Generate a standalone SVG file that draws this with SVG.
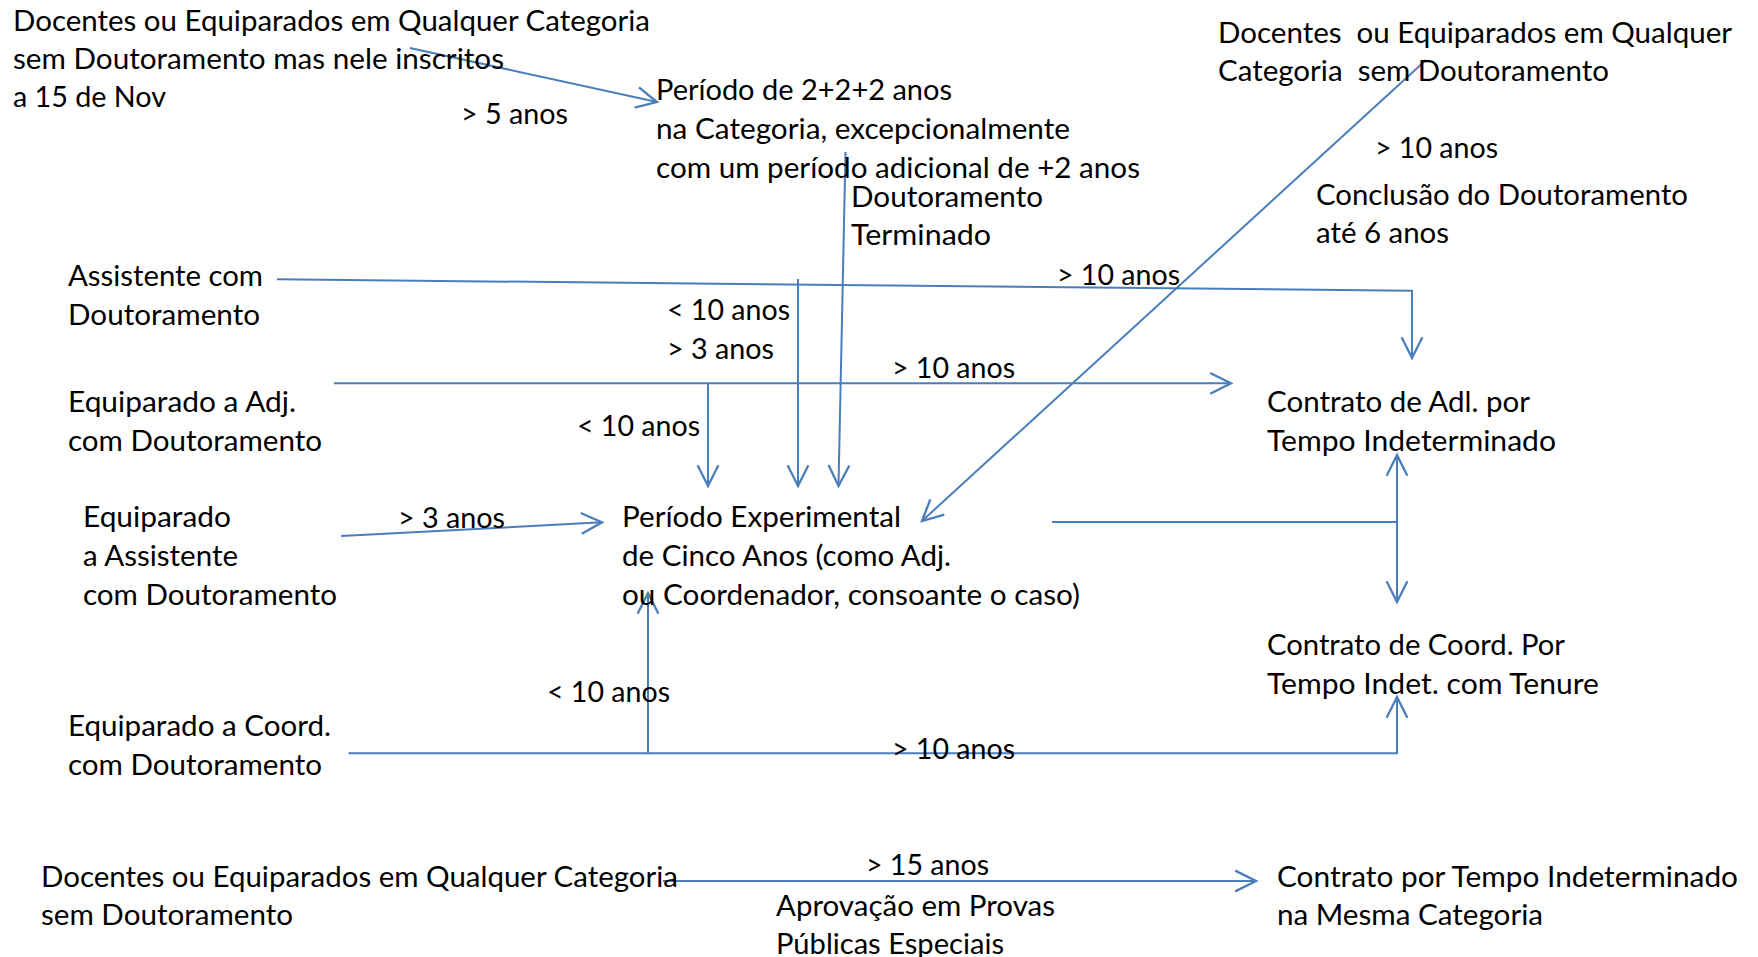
<svg xmlns="http://www.w3.org/2000/svg" width="1758" height="957" viewBox="0 0 1758 957">
<style>
text{font-family:Lato,"Open Sans","Liberation Sans",sans-serif;font-size:29px;fill:#000;}
.c{fill:none;stroke:#4A7EBB;stroke-width:2;}
</style>
<defs>
<marker id="ah" markerUnits="userSpaceOnUse" markerWidth="30" markerHeight="30" viewBox="-22 -12 26 24" refX="0" refY="0" orient="auto-start-reverse">
<path d="M-18,-9 L0,0 L-18,9" fill="none" stroke="#4A7EBB" stroke-width="2"/>
</marker>
</defs>
<rect width="1758" height="957" fill="#fff"/>
<g id="connectors">
<path class="c" d="M410,48 L657,102" marker-end="url(#ah)"/>
<path class="c" d="M845.5,152 L838.5,486" marker-end="url(#ah)"/>
<path class="c" d="M798,279 L798,486" marker-end="url(#ah)"/>
<path class="c" d="M277,279.3 L1412,290.7 L1412,358" marker-end="url(#ah)"/>
<path class="c" d="M334,383.3 L1231,383.3" marker-end="url(#ah)"/>
<path class="c" d="M708,383.3 L708,486" marker-end="url(#ah)"/>
<path class="c" d="M341,536 L602,522.3" marker-end="url(#ah)"/>
<path class="c" d="M1426,60 L922,521" marker-end="url(#ah)"/>
<path class="c" d="M1052,522 L1397,522"/>
<path class="c" d="M1397,455 L1397,602" marker-start="url(#ah)" marker-end="url(#ah)"/>
<path class="c" d="M348.5,753.3 L1397,753.3 L1397,697" marker-end="url(#ah)"/>
<path class="c" d="M648,753.3 L648,593" marker-end="url(#ah)"/>
<path class="c" d="M663,881 L1256,881" marker-end="url(#ah)"/>
</g>
<g id="texts" transform="translate(0,1.5)">
<g id="n-docentes-inscritos">
<text x="13" y="29" textLength="637" lengthAdjust="spacingAndGlyphs">Docentes ou Equiparados em Qualquer Categoria</text>
<text x="13" y="67" textLength="491" lengthAdjust="spacingAndGlyphs">sem Doutoramento mas nele inscritos</text>
<text x="13" y="105" textLength="153" lengthAdjust="spacingAndGlyphs">a 15 de Nov</text>
</g>
<g id="l-5anos"><text x="461" y="122" textLength="107" lengthAdjust="spacingAndGlyphs">&gt; 5 anos</text></g>
<g id="n-periodo-222">
<text x="656" y="98" textLength="296" lengthAdjust="spacingAndGlyphs">Período de 2+2+2 anos</text>
<text x="656" y="137" textLength="414" lengthAdjust="spacingAndGlyphs">na Categoria, excepcionalmente</text>
<text x="656" y="176" textLength="484" lengthAdjust="spacingAndGlyphs">com um período adicional de +2 anos</text>
</g>
<g id="l-doutoramento-terminado">
<text x="851" y="205" textLength="192" lengthAdjust="spacingAndGlyphs">Doutoramento</text>
<text x="851" y="243" textLength="140" lengthAdjust="spacingAndGlyphs">Terminado</text>
</g>
<g id="n-docentes-sem-dout-top">
<text x="1218" y="41" textLength="514" lengthAdjust="spacingAndGlyphs" xml:space="preserve">Docentes  ou Equiparados em Qualquer</text>
<text x="1218" y="79" textLength="391" lengthAdjust="spacingAndGlyphs" xml:space="preserve">Categoria  sem Doutoramento</text>
</g>
<g id="l-10anos-top"><text x="1375" y="156" textLength="123" lengthAdjust="spacingAndGlyphs">&gt; 10 anos</text></g>
<g id="l-conclusao">
<text x="1316" y="203" textLength="372" lengthAdjust="spacingAndGlyphs">Conclusão do Doutoramento</text>
<text x="1316" y="241" textLength="133" lengthAdjust="spacingAndGlyphs">até 6 anos</text>
</g>
<g id="n-assistente">
<text x="68" y="284" textLength="195" lengthAdjust="spacingAndGlyphs">Assistente com</text>
<text x="68" y="323" textLength="192" lengthAdjust="spacingAndGlyphs">Doutoramento</text>
</g>
<g id="l-10-3anos">
<text x="667" y="318" textLength="123" lengthAdjust="spacingAndGlyphs">&lt; 10 anos</text>
<text x="667" y="357" textLength="107" lengthAdjust="spacingAndGlyphs">&gt; 3 anos</text>
</g>
<g id="l-10anos-a"><text x="1057" y="283" textLength="123" lengthAdjust="spacingAndGlyphs">&gt; 10 anos</text></g>
<g id="l-10anos-b"><text x="892" y="376" textLength="123" lengthAdjust="spacingAndGlyphs">&gt; 10 anos</text></g>
<g id="n-equip-adj">
<text x="68" y="410" textLength="228" lengthAdjust="spacingAndGlyphs">Equiparado a Adj.</text>
<text x="68" y="449" textLength="254" lengthAdjust="spacingAndGlyphs">com Doutoramento</text>
</g>
<g id="l-10anos-c"><text x="577" y="434" textLength="123" lengthAdjust="spacingAndGlyphs">&lt; 10 anos</text></g>
<g id="n-equip-assist">
<text x="83" y="525" textLength="148" lengthAdjust="spacingAndGlyphs">Equiparado</text>
<text x="83" y="564" textLength="155" lengthAdjust="spacingAndGlyphs">a Assistente</text>
<text x="83" y="603" textLength="254" lengthAdjust="spacingAndGlyphs">com Doutoramento</text>
</g>
<g id="l-3anos"><text x="398" y="526" textLength="107" lengthAdjust="spacingAndGlyphs">&gt; 3 anos</text></g>
<g id="n-periodo-exp">
<text x="622" y="525" textLength="279" lengthAdjust="spacingAndGlyphs">Período Experimental</text>
<text x="622" y="564" textLength="329" lengthAdjust="spacingAndGlyphs">de Cinco Anos (como Adj.</text>
<text x="622" y="603" textLength="458" lengthAdjust="spacingAndGlyphs">ou Coordenador, consoante o caso)</text>
</g>
<g id="n-contrato-adl">
<text x="1267" y="410" textLength="263" lengthAdjust="spacingAndGlyphs">Contrato de Adl. por</text>
<text x="1267" y="449" textLength="289" lengthAdjust="spacingAndGlyphs">Tempo Indeterminado</text>
</g>
<g id="n-contrato-coord">
<text x="1267" y="653" textLength="298" lengthAdjust="spacingAndGlyphs">Contrato de Coord. Por</text>
<text x="1267" y="692" textLength="332" lengthAdjust="spacingAndGlyphs">Tempo Indet. com Tenure</text>
</g>
<g id="l-10anos-d"><text x="547" y="700" textLength="123" lengthAdjust="spacingAndGlyphs">&lt; 10 anos</text></g>
<g id="n-equip-coord">
<text x="68" y="734" textLength="263" lengthAdjust="spacingAndGlyphs">Equiparado a Coord.</text>
<text x="68" y="773" textLength="254" lengthAdjust="spacingAndGlyphs">com Doutoramento</text>
</g>
<g id="l-10anos-e"><text x="892" y="757" textLength="123" lengthAdjust="spacingAndGlyphs">&gt; 10 anos</text></g>
<g id="n-docentes-bottom">
<text x="41" y="885" textLength="637" lengthAdjust="spacingAndGlyphs">Docentes ou Equiparados em Qualquer Categoria</text>
<text x="41" y="923" textLength="252" lengthAdjust="spacingAndGlyphs">sem Doutoramento</text>
</g>
<g id="l-15anos"><text x="866" y="873" textLength="123" lengthAdjust="spacingAndGlyphs">&gt; 15 anos</text></g>
<g id="l-aprovacao">
<text x="776" y="914" textLength="279" lengthAdjust="spacingAndGlyphs">Aprovação em Provas</text>
<text x="776" y="952" textLength="228" lengthAdjust="spacingAndGlyphs">Públicas Especiais</text>
</g>
<g id="n-contrato-mesma">
<text x="1277" y="885" textLength="461" lengthAdjust="spacingAndGlyphs">Contrato por Tempo Indeterminado</text>
<text x="1277" y="923" textLength="266" lengthAdjust="spacingAndGlyphs">na Mesma Categoria</text>
</g>
</g>
</svg>
